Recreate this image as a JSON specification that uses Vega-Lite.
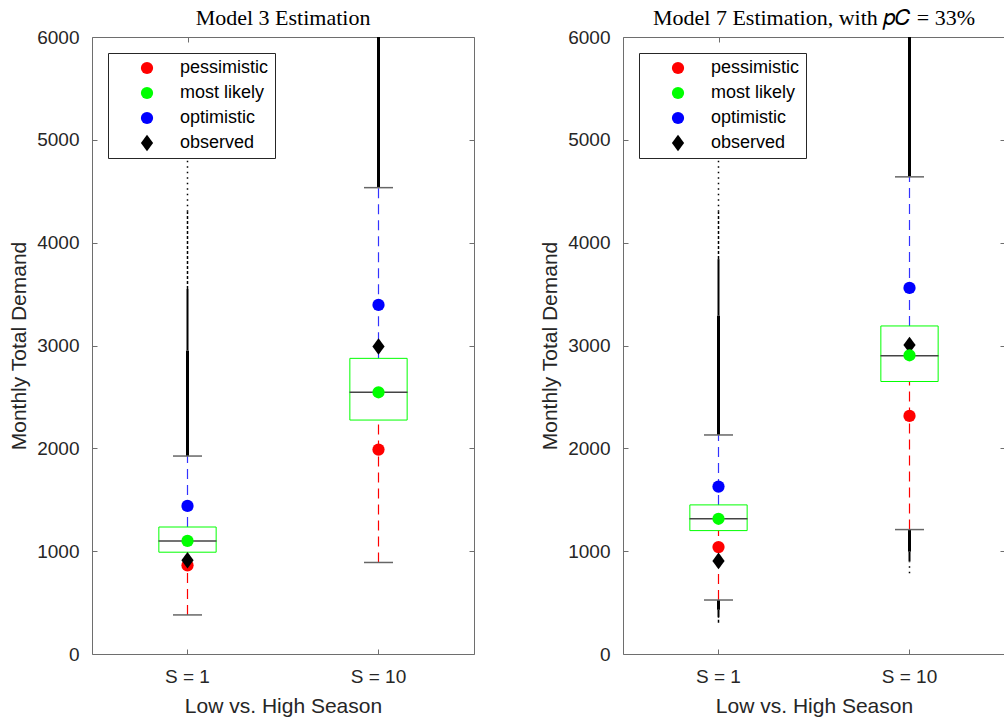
{
  "$schema": "https://vega.github.io/schema/vega-lite/v6.json",
  "padding": {"left": 8, "top": 6, "right": 0, "bottom": 0},
  "background": "white",
  "config": {
    "font": "Liberation Sans",
    "view": {"stroke": "#6e6e6e", "strokeWidth": 1},
    "axis": {
      "domain": false,
      "grid": false,
      "tickSize": -5,
      "tickColor": "#6e6e6e",
      "tickWidth": 1,
      "labelFontSize": 19,
      "labelColor": "#262626",
      "labelFont": "Liberation Sans",
      "titleFont": "Liberation Sans",
      "titleFontSize": 21,
      "titleFontWeight": "normal",
      "titleColor": "#262626"
    },
    "title": {"font": "Liberation Serif", "fontSize": 22, "fontWeight": "normal", "color": "black", "offset": -2}
  },
  "datasets": {
    "boxes": [
      {"model": "Model 3", "season": "S = 1", "lo": 380, "q1": 990, "median": 1100, "q3": 1235, "hi": 1925},
      {"model": "Model 3", "season": "S = 10", "lo": 890, "q1": 2275, "median": 2545, "q3": 2875, "hi": 4535},
      {"model": "Model 7", "season": "S = 1", "lo": 525, "q1": 1200, "median": 1315, "q3": 1450, "hi": 2130},
      {"model": "Model 7", "season": "S = 10", "lo": 1210, "q1": 2650, "median": 2900, "q3": 3190, "hi": 4640}
    ],
    "points": [
      {"model": "Model 3", "season": "S = 1", "series": "pessimistic", "value": 862},
      {"model": "Model 3", "season": "S = 1", "series": "observed", "value": 912},
      {"model": "Model 3", "season": "S = 1", "series": "most likely", "value": 1100},
      {"model": "Model 3", "season": "S = 1", "series": "optimistic", "value": 1440},
      {"model": "Model 3", "season": "S = 10", "series": "pessimistic", "value": 1988},
      {"model": "Model 3", "season": "S = 10", "series": "observed", "value": 2990},
      {"model": "Model 3", "season": "S = 10", "series": "most likely", "value": 2545},
      {"model": "Model 3", "season": "S = 10", "series": "optimistic", "value": 3395},
      {"model": "Model 7", "season": "S = 1", "series": "pessimistic", "value": 1040},
      {"model": "Model 7", "season": "S = 1", "series": "observed", "value": 905},
      {"model": "Model 7", "season": "S = 1", "series": "most likely", "value": 1315},
      {"model": "Model 7", "season": "S = 1", "series": "optimistic", "value": 1628},
      {"model": "Model 7", "season": "S = 10", "series": "pessimistic", "value": 2315},
      {"model": "Model 7", "season": "S = 10", "series": "observed", "value": 3005},
      {"model": "Model 7", "season": "S = 10", "series": "most likely", "value": 2905},
      {"model": "Model 7", "season": "S = 10", "series": "optimistic", "value": 3560}
    ],
    "outliers": [
      {"model": "Model 3", "season": "S = 1", "from": 1925, "to": 2950, "density": "dense"},
      {"model": "Model 3", "season": "S = 1", "from": 2950, "to": 3550, "density": "medium"},
      {"model": "Model 3", "season": "S = 1", "from": 3550, "to": 4300, "density": "sparse"},
      {"model": "Model 3", "season": "S = 1", "from": 4300, "to": 4850, "density": "verysparse"},
      {"model": "Model 3", "season": "S = 10", "from": 4535, "to": 6000, "density": "dense"},
      {"model": "Model 7", "season": "S = 1", "from": 2130, "to": 3290, "density": "dense"},
      {"model": "Model 7", "season": "S = 1", "from": 3290, "to": 3840, "density": "medium"},
      {"model": "Model 7", "season": "S = 1", "from": 3840, "to": 4300, "density": "sparse"},
      {"model": "Model 7", "season": "S = 1", "from": 4300, "to": 4850, "density": "verysparse"},
      {"model": "Model 7", "season": "S = 1", "from": 430, "to": 525, "density": "dense"},
      {"model": "Model 7", "season": "S = 1", "from": 360, "to": 430, "density": "medium"},
      {"model": "Model 7", "season": "S = 1", "from": 305, "to": 360, "density": "sparse"},
      {"model": "Model 7", "season": "S = 10", "from": 4640, "to": 6000, "density": "dense"},
      {"model": "Model 7", "season": "S = 10", "from": 995, "to": 1210, "density": "dense"},
      {"model": "Model 7", "season": "S = 10", "from": 900, "to": 995, "density": "medium"},
      {"model": "Model 7", "season": "S = 10", "from": 785, "to": 900, "density": "verysparse"}
    ]
  },
  "resolve": {"scale": {"color": "independent", "shape": "independent"}, "legend": {"color": "independent", "shape": "independent"}},
  "spacing": 64,
  "hconcat": [
    {
      "width": 382,
      "height": 617,
      "title": {"text": "Model 3 Estimation"},
      "resolve": {"scale": {"x": "independent", "y": "independent"}},
      "layer": [
        {
          "data": {"name": "boxes"},
          "transform": [{"filter": "datum.model === 'Model 3'"}],
          "mark": {"type": "point", "opacity": 0},
          "encoding": {
            "x": {"field": "season", "type": "nominal", "scale": {"domain": ["S = 1", "S = 10"]}, "axis": {"orient": "top", "labels": false, "title": null, "minExtent": 0, "maxExtent": 0}},
            "y": {"field": "median", "type": "quantitative", "scale": {"domain": [0, 6000], "nice": false}, "axis": {"orient": "right", "labels": false, "title": null, "minExtent": 0, "maxExtent": 0, "values": [0, 1000, 2000, 3000, 4000, 5000, 6000]}}
          }
        },
        {
          "encoding": {
            "x": {"field": "season", "type": "nominal", "title": "Low vs. High Season", "scale": {"domain": ["S = 1", "S = 10"], "paddingInner": 0, "paddingOuter": 0}, "axis": {"orient": "bottom", "labelAngle": 0, "labelPadding": 18, "titlePadding": 9}}
          },
          "layer": [
            {
              "data": {"name": "outliers"},
              "transform": [{"filter": "datum.model === 'Model 3' && datum.density === 'dense'"}],
              "mark": {"type": "rule", "color": "black", "strokeWidth": 3},
              "encoding": {
                "y": {"field": "from", "type": "quantitative", "title": "Monthly Total Demand", "scale": {"domain": [0, 6000], "nice": false}, "axis": {"orient": "left", "format": "d", "values": [0, 1000, 2000, 3000, 4000, 5000, 6000], "labelPadding": 18, "titlePadding": 7}},
                "y2": {"field": "to"}
              }
            },
            {
              "data": {"name": "outliers"},
              "transform": [{"filter": "datum.model === 'Model 3' && datum.density === 'medium'"}],
              "mark": {"type": "rule", "color": "black", "strokeWidth": 2},
              "encoding": {
                "y": {"field": "from", "type": "quantitative", "title": "Monthly Total Demand"},
                "y2": {"field": "to"}
              }
            },
            {
              "data": {"name": "outliers"},
              "transform": [{"filter": "datum.model === 'Model 3' && datum.density === 'sparse'"}],
              "mark": {"type": "rule", "color": "black", "strokeWidth": 1.5, "strokeDash": [3, 2]},
              "encoding": {
                "y": {"field": "from", "type": "quantitative", "title": "Monthly Total Demand"},
                "y2": {"field": "to"}
              }
            },
            {
              "data": {"name": "outliers"},
              "transform": [{"filter": "datum.model === 'Model 3' && datum.density === 'verysparse'"}],
              "mark": {"type": "rule", "color": "black", "strokeWidth": 1.5, "strokeDash": [1.5, 4]},
              "encoding": {
                "y": {"field": "from", "type": "quantitative", "title": "Monthly Total Demand"},
                "y2": {"field": "to"}
              }
            },
            {
              "data": {"name": "boxes"},
              "transform": [{"filter": "datum.model === 'Model 3'"}],
              "mark": {"type": "rule", "color": "#ff0000", "strokeWidth": 1.2, "strokeDash": [10, 6]},
              "encoding": {
                "y": {"field": "lo", "type": "quantitative", "title": "Monthly Total Demand"},
                "y2": {"field": "q1"}
              }
            },
            {
              "data": {"name": "boxes"},
              "transform": [{"filter": "datum.model === 'Model 3'"}],
              "mark": {"type": "rule", "color": "#3333ff", "strokeWidth": 1.2, "strokeDash": [10, 6]},
              "encoding": {
                "y": {"field": "q3", "type": "quantitative", "title": "Monthly Total Demand"},
                "y2": {"field": "hi"}
              }
            },
            {
              "data": {"name": "boxes"},
              "transform": [{"filter": "datum.model === 'Model 3'"}],
              "mark": {"type": "bar", "fill": "transparent", "stroke": "#00ff00", "strokeWidth": 1, "width": {"band": 0.3}},
              "encoding": {
                "y": {"field": "q1", "type": "quantitative", "title": "Monthly Total Demand"},
                "y2": {"field": "q3"}
              }
            },
            {
              "data": {"name": "boxes"},
              "transform": [{"filter": "datum.model === 'Model 3'"}],
              "mark": {"type": "tick", "color": "#444444", "thickness": 1.5, "size": 58, "opacity": 1},
              "encoding": {
                "y": {"field": "median", "type": "quantitative", "title": "Monthly Total Demand"}
              }
            },
            {
              "data": {"name": "boxes"},
              "transform": [{"filter": "datum.model === 'Model 3'"}, {"fold": ["lo", "hi"], "as": ["end", "cap"]}],
              "mark": {"type": "tick", "color": "#666666", "thickness": 1.5, "size": 29, "opacity": 1},
              "encoding": {
                "y": {"field": "cap", "type": "quantitative", "title": "Monthly Total Demand"}
              }
            },
            {
              "data": {"name": "points"},
              "transform": [{"filter": "datum.model === 'Model 3'"}],
              "mark": {"type": "point", "filled": true, "opacity": 1, "size": 150, "strokeWidth": 0},
              "encoding": {
                "y": {"field": "value", "type": "quantitative", "title": "Monthly Total Demand"},
                "color": {"field": "series", "type": "nominal", "scale": {"domain": ["pessimistic", "most likely", "optimistic", "observed"], "range": ["#ff0000", "#00ff00", "#0000ff", "#000000"]}, "legend": {"orient": "none", "legendX": 16, "legendY": 16, "title": null, "strokeColor": "#262626", "fillColor": "white", "padding": 6, "symbolOffset": 24, "labelOffset": 24, "rowPadding": 7, "labelFontSize": 18, "labelColor": "#000000", "symbolSize": 150, "symbolStrokeWidth": 0, "labelFont": "Liberation Sans"}},
                "shape": {"field": "series", "type": "nominal", "scale": {"domain": ["pessimistic", "most likely", "optimistic", "observed"], "range": ["circle", "circle", "circle", "M-1,0L0,-1.36L1,0L0,1.36Z"]}, "legend": {"orient": "none", "legendX": 16, "legendY": 16, "title": null, "strokeColor": "#262626", "fillColor": "white", "padding": 6, "symbolOffset": 24, "labelOffset": 24, "rowPadding": 7, "labelFontSize": 18, "labelColor": "#000000", "symbolSize": 150, "symbolStrokeWidth": 0, "labelFont": "Liberation Sans"}}
              }
            }
          ]
        }
      ]
    },
    {
      "width": 382,
      "height": 617,
      "title": {"text": "Model 7 Estimation, with 𝑝𝐶 = 33%"},
      "resolve": {"scale": {"x": "independent", "y": "independent"}},
      "layer": [
        {
          "data": {"name": "boxes"},
          "transform": [{"filter": "datum.model === 'Model 7'"}],
          "mark": {"type": "point", "opacity": 0},
          "encoding": {
            "x": {"field": "season", "type": "nominal", "scale": {"domain": ["S = 1", "S = 10"]}, "axis": {"orient": "top", "labels": false, "title": null, "minExtent": 0, "maxExtent": 0}},
            "y": {"field": "median", "type": "quantitative", "scale": {"domain": [0, 6000], "nice": false}, "axis": {"orient": "right", "labels": false, "title": null, "minExtent": 0, "maxExtent": 0, "values": [0, 1000, 2000, 3000, 4000, 5000, 6000]}}
          }
        },
        {
          "encoding": {
            "x": {"field": "season", "type": "nominal", "title": "Low vs. High Season", "scale": {"domain": ["S = 1", "S = 10"], "paddingInner": 0, "paddingOuter": 0}, "axis": {"orient": "bottom", "labelAngle": 0, "labelPadding": 18, "titlePadding": 9}}
          },
          "layer": [
            {
              "data": {"name": "outliers"},
              "transform": [{"filter": "datum.model === 'Model 7' && datum.density === 'dense'"}],
              "mark": {"type": "rule", "color": "black", "strokeWidth": 3},
              "encoding": {
                "y": {"field": "from", "type": "quantitative", "title": "Monthly Total Demand", "scale": {"domain": [0, 6000], "nice": false}, "axis": {"orient": "left", "format": "d", "values": [0, 1000, 2000, 3000, 4000, 5000, 6000], "labelPadding": 18, "titlePadding": 7}},
                "y2": {"field": "to"}
              }
            },
            {
              "data": {"name": "outliers"},
              "transform": [{"filter": "datum.model === 'Model 7' && datum.density === 'medium'"}],
              "mark": {"type": "rule", "color": "black", "strokeWidth": 2},
              "encoding": {
                "y": {"field": "from", "type": "quantitative", "title": "Monthly Total Demand"},
                "y2": {"field": "to"}
              }
            },
            {
              "data": {"name": "outliers"},
              "transform": [{"filter": "datum.model === 'Model 7' && datum.density === 'sparse'"}],
              "mark": {"type": "rule", "color": "black", "strokeWidth": 1.5, "strokeDash": [3, 2]},
              "encoding": {
                "y": {"field": "from", "type": "quantitative", "title": "Monthly Total Demand"},
                "y2": {"field": "to"}
              }
            },
            {
              "data": {"name": "outliers"},
              "transform": [{"filter": "datum.model === 'Model 7' && datum.density === 'verysparse'"}],
              "mark": {"type": "rule", "color": "black", "strokeWidth": 1.5, "strokeDash": [1.5, 4]},
              "encoding": {
                "y": {"field": "from", "type": "quantitative", "title": "Monthly Total Demand"},
                "y2": {"field": "to"}
              }
            },
            {
              "data": {"name": "boxes"},
              "transform": [{"filter": "datum.model === 'Model 7'"}],
              "mark": {"type": "rule", "color": "#ff0000", "strokeWidth": 1.2, "strokeDash": [10, 6]},
              "encoding": {
                "y": {"field": "lo", "type": "quantitative", "title": "Monthly Total Demand"},
                "y2": {"field": "q1"}
              }
            },
            {
              "data": {"name": "boxes"},
              "transform": [{"filter": "datum.model === 'Model 7'"}],
              "mark": {"type": "rule", "color": "#3333ff", "strokeWidth": 1.2, "strokeDash": [10, 6]},
              "encoding": {
                "y": {"field": "q3", "type": "quantitative", "title": "Monthly Total Demand"},
                "y2": {"field": "hi"}
              }
            },
            {
              "data": {"name": "boxes"},
              "transform": [{"filter": "datum.model === 'Model 7'"}],
              "mark": {"type": "bar", "fill": "transparent", "stroke": "#00ff00", "strokeWidth": 1, "width": {"band": 0.3}},
              "encoding": {
                "y": {"field": "q1", "type": "quantitative", "title": "Monthly Total Demand"},
                "y2": {"field": "q3"}
              }
            },
            {
              "data": {"name": "boxes"},
              "transform": [{"filter": "datum.model === 'Model 7'"}],
              "mark": {"type": "tick", "color": "#444444", "thickness": 1.5, "size": 58, "opacity": 1},
              "encoding": {
                "y": {"field": "median", "type": "quantitative", "title": "Monthly Total Demand"}
              }
            },
            {
              "data": {"name": "boxes"},
              "transform": [{"filter": "datum.model === 'Model 7'"}, {"fold": ["lo", "hi"], "as": ["end", "cap"]}],
              "mark": {"type": "tick", "color": "#666666", "thickness": 1.5, "size": 29, "opacity": 1},
              "encoding": {
                "y": {"field": "cap", "type": "quantitative", "title": "Monthly Total Demand"}
              }
            },
            {
              "data": {"name": "points"},
              "transform": [{"filter": "datum.model === 'Model 7'"}],
              "mark": {"type": "point", "filled": true, "opacity": 1, "size": 150, "strokeWidth": 0},
              "encoding": {
                "y": {"field": "value", "type": "quantitative", "title": "Monthly Total Demand"},
                "color": {"field": "series", "type": "nominal", "scale": {"domain": ["pessimistic", "most likely", "optimistic", "observed"], "range": ["#ff0000", "#00ff00", "#0000ff", "#000000"]}, "legend": {"orient": "none", "legendX": 16, "legendY": 16, "title": null, "strokeColor": "#262626", "fillColor": "white", "padding": 6, "symbolOffset": 24, "labelOffset": 24, "rowPadding": 7, "labelFontSize": 18, "labelColor": "#000000", "symbolSize": 150, "symbolStrokeWidth": 0, "labelFont": "Liberation Sans"}},
                "shape": {"field": "series", "type": "nominal", "scale": {"domain": ["pessimistic", "most likely", "optimistic", "observed"], "range": ["circle", "circle", "circle", "M-1,0L0,-1.36L1,0L0,1.36Z"]}, "legend": {"orient": "none", "legendX": 16, "legendY": 16, "title": null, "strokeColor": "#262626", "fillColor": "white", "padding": 6, "symbolOffset": 24, "labelOffset": 24, "rowPadding": 7, "labelFontSize": 18, "labelColor": "#000000", "symbolSize": 150, "symbolStrokeWidth": 0, "labelFont": "Liberation Sans"}}
              }
            }
          ]
        }
      ]
    }
  ]
}
